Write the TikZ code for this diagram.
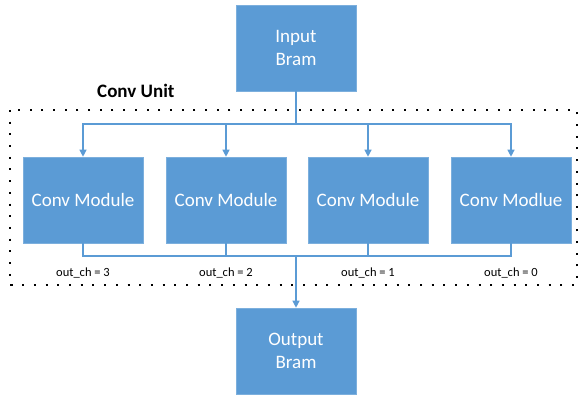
\documentclass[tikz,border=0pt]{standalone}
\usepackage{fontspec}
\setmainfont{Carlito}
\usetikzlibrary{arrows.meta}
\definecolor{boxblue}{HTML}{5B9BD5}
\tikzset{
  block/.style={fill=boxblue, draw=boxblue!80!white, line width=0.6pt,
    minimum width=120pt, minimum height=86pt, inner sep=0pt,
    text=white, font=\fontsize{19}{23}\selectfont, align=center},
  wire/.style={draw=boxblue, line width=1.2pt},
  feed/.style={wire, -{Triangle[width=7pt,length=7pt]}},
  chlabel/.style={font=\fontsize{12.5}{14}\selectfont, inner sep=0pt},
  unitframe/.style={draw=black, line width=2pt, dash pattern=on 2pt off 9.7pt}
}
\begin{document}
\begin{tikzpicture}[x=1pt,y=-1pt]
\useasboundingbox (0,0) rectangle (581,395);

% convolution unit frame and title
\draw[unitframe] (10,110) rectangle (577,285);
\node[font=\fontsize{19}{22}\selectfont\bfseries, anchor=west, inner sep=0pt] (title) at (97,91) {Conv Unit};

% memories
\node[block] (in)  at (296,48)  {Input\\Bram};
\node[block] (out) at (296,351) {Output\\Bram};

% convolution modules
\node[block] (c3) at (83,200)  {Conv Module};
\node[block] (c2) at (226,200) {Conv Module};
\node[block] (c1) at (368,200) {Conv Module};
\node[block] (c0) at (511,200) {Conv Modlue};

% input fan-out bus
\coordinate (top) at (296,124);
\draw[wire] (in.south) -- (top);
\foreach \m in {c3,c2,c1,c0}
  \draw[feed] (top) -| (\m.north);

% output merge bus
\coordinate (bot) at (296,256);
\foreach \m in {c3,c2,c1,c0}
  \draw[wire] (\m.south) |- (bot);
\draw[feed] (bot) -- (out.north);

% channel labels
\node[chlabel] (l3) at (83,273)  {out\_ch = 3};
\node[chlabel] (l2) at (226,273) {out\_ch = 2};
\node[chlabel] (l1) at (368,273) {out\_ch = 1};
\node[chlabel] (l0) at (511,273) {out\_ch = 0};
\end{tikzpicture}
\end{document}
